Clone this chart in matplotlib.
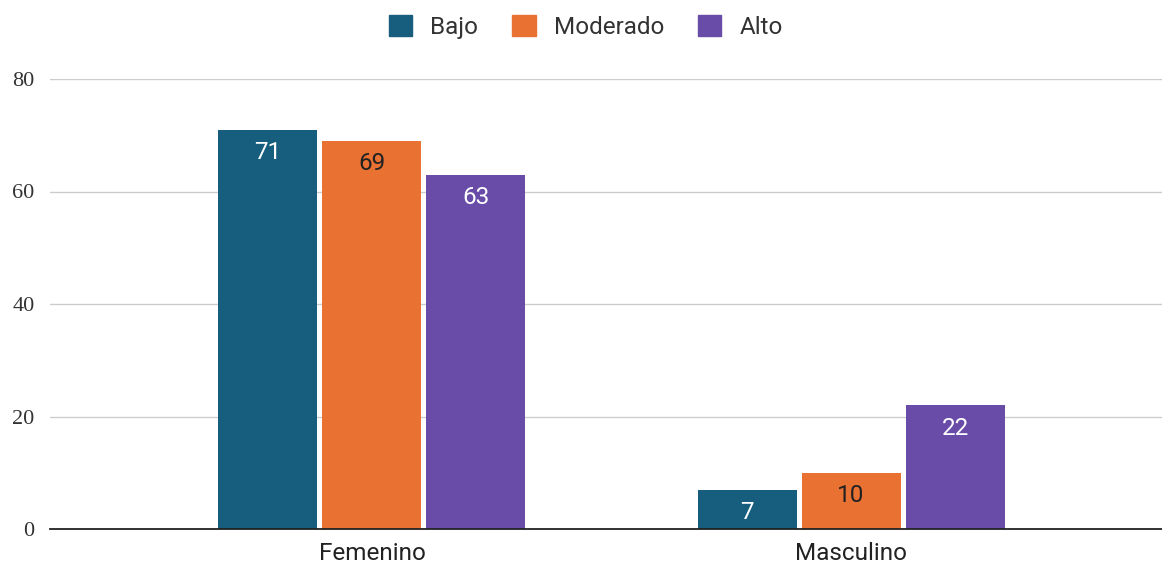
import matplotlib
matplotlib.use("Agg")
import matplotlib.pyplot as plt
from matplotlib.patches import Patch
import numpy as np

categories = ["Femenino", "Masculino"]
series_names = ["Bajo", "Moderado", "Alto"]
bajo = [71, 7]
moderado = [69, 10]
alto = [63, 22]
values = [bajo, moderado, alto]
colors = ["#175E7E", "#E97132", "#684CA8"]
label_colors = ["white", "#222222", "white"]
yticks = [0, 20, 40, 60, 80]

plt.rcParams['font.family'] = ['Roboto', 'DejaVu Sans']

fig = plt.figure(figsize=(11.62, 5.65), dpi=100)
ax = fig.add_axes([50/1162, 36/565, 1 - 50/1162, (529-79)/565])

x = np.arange(len(categories))
width = 0.2067
step = 0.2171
for i, (name, vals) in enumerate(zip(series_names, values)):
    pos = x + (i - 1) * step
    bars = ax.bar(pos, vals, width=width, color=colors[i], zorder=3)
    for b, v in zip(bars, vals):
        ax.annotate(str(v), (b.get_x() + b.get_width()/2, v),
                    xytext=(0, -16.5), textcoords="offset points",
                    ha="center", va="center", fontsize=17.5,
                    color=label_colors[i], zorder=4)

ax.set_xlim(-0.672, 1.649)
ax.set_ylim(0, 80)
ax.set_yticks(yticks)
ax.set_yticklabels([str(t) for t in yticks], family="Liberation Serif", fontsize=16, color="#333333")
ax.set_xticks(x)
ax.set_xticklabels(categories, fontsize=17.5, color="#222222")
ax.tick_params(axis="both", length=0)
ax.tick_params(axis="y", pad=11)
ax.tick_params(axis="x", pad=9)
ax.grid(axis="y", color="#cccccc", linewidth=1, zorder=0)
for s in ["top", "right", "left"]:
    ax.spines[s].set_visible(False)
ax.spines["bottom"].set_color("#222222")
ax.spines["bottom"].set_linewidth(1.3)
ax.spines["bottom"].set_zorder(5)

handles = [Patch(facecolor=c, edgecolor=c) for c in colors]
fig.legend(handles, series_names, loc="center", bbox_to_anchor=(586/1162, 1 - 27/565),
           ncol=3, frameon=False, fontsize=17.5, handlelength=0.95, handleheight=0.95,
           handletextpad=0.75, columnspacing=1.4, labelcolor="#333333")

fig.savefig("out.png", dpi=100)
